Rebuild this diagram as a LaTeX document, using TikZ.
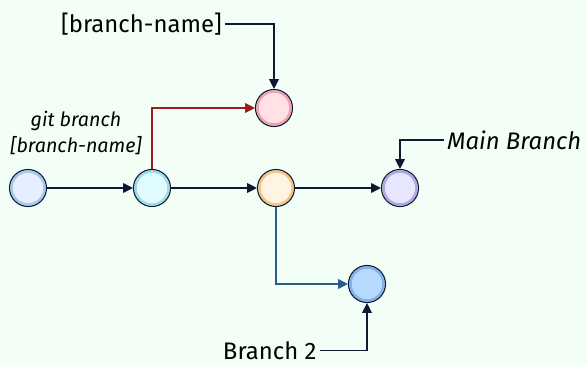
\documentclass[tikz,border=0pt]{standalone}
\usepackage{fontspec}
\setmainfont{Fira Sans}
\usetikzlibrary{arrows.meta}
\definecolor{bgmint}{HTML}{F3FFF6}
\definecolor{inkline}{HTML}{0D1A33}
\definecolor{redline}{HTML}{A01C1C}
\definecolor{blueline}{HTML}{2F5A8E}
\definecolor{basefill}{HTML}{E4EFFF}\definecolor{basering}{HTML}{A7C7EE}
\definecolor{forkfill}{HTML}{E0FCFF}\definecolor{forkring}{HTML}{9CDDE6}
\definecolor{midfill}{HTML}{FFF3E3}\definecolor{midring}{HTML}{F9C57D}
\definecolor{headfill}{HTML}{E8E5FF}\definecolor{headring}{HTML}{ADA6E6}
\definecolor{newfill}{HTML}{FFE1E6}\definecolor{newring}{HTML}{F2A2AE}
\definecolor{twofill}{HTML}{B7DAFE}\definecolor{tworing}{HTML}{7FB3EA}
\tikzset{
  commit/.style 2 args={circle,minimum size=0.925cm,inner sep=0pt,fill=#1,draw=inkline,line width=0.8pt,
    path picture={\draw[#2,line width=1.6pt] (path picture bounding box.center) circle (0.41cm);}},
  link/.style={inkline,line width=0.8pt,-{Triangle[length=7pt,width=7pt]}},
  tag/.style={font=\fontsize{17}{20}\selectfont,inner sep=2pt}
}
\begin{document}
\begin{tikzpicture}
\fill[bgmint] (0,0) rectangle (14.675,9.125);
\useasboundingbox (0,0) rectangle (14.675,9.125);
% commits
\node[commit={basefill}{basering}] (c1) at (0.7,4.425) {};
\node[commit={forkfill}{forkring}] (c2) at (3.8,4.425) {};
\node[commit={midfill}{midring}] (c3) at (6.9,4.425) {};
\node[commit={headfill}{headring}] (c4) at (10.0,4.425) {};
\node[commit={newfill}{newring}] (new) at (6.85,6.425) {};
\node[commit={twofill}{tworing}] (b2) at (9.175,2.025) {};
% labels
\node[tag,anchor=east] (newlbl) at (5.62,8.525) {[branch-name]};
\node[font=\fontsize{14}{18.5}\selectfont\itshape,align=center] (cmd) at (1.9,5.8) {git branch\\{[branch-name]}};
\node[tag,font=\fontsize{17}{20}\selectfont\itshape,anchor=west] (mainlbl) at (11.1,5.625) {Main Branch};
\node[tag,anchor=east] (b2lbl) at (7.99,0.36) {Branch 2};
% history
\draw[link] (c1) -- (c2);
\draw[link] (c2) -- (c3);
\draw[link] (c3) -- (c4);
\draw[link,redline,-{Triangle[length=7pt,width=7pt]}] (c2.north) |- (new.west);
\draw[link,blueline] (c3.south) |- (b2.west);
% pointers
\draw[link] (newlbl.east) -| (new.north);
\draw[link] (mainlbl.west) -| (c4.north);
\draw[link] (b2lbl.east) -| (b2.south);
\end{tikzpicture}
\end{document}
